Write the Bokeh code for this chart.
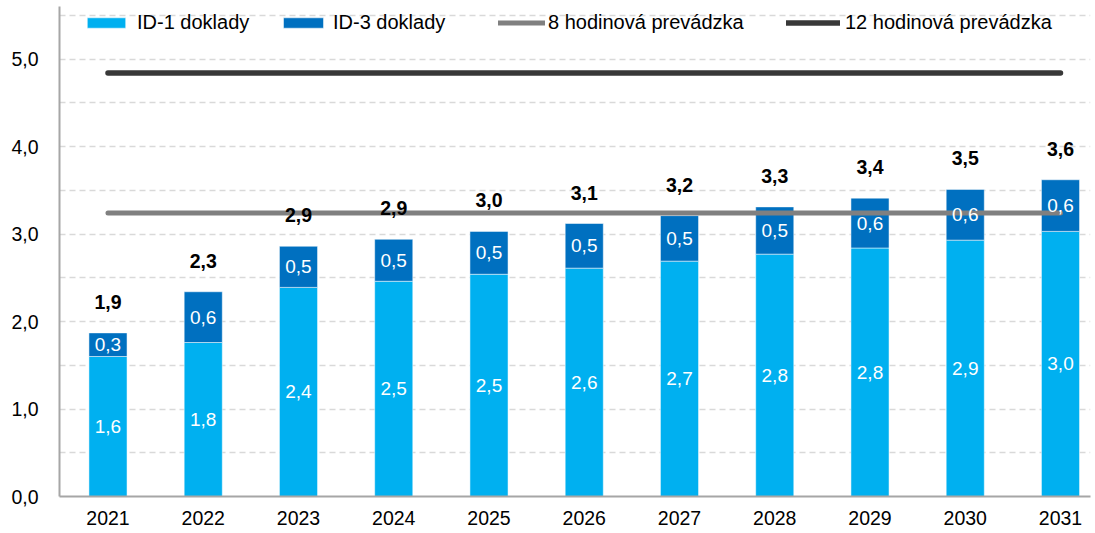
from bokeh.plotting import figure
from bokeh.models import ColumnDataSource, FixedTicker, Legend, LegendItem, Range1d, LabelSet
from bokeh.core.properties import value
from bokeh.embed import file_html
from bokeh.resources import INLINE

years = ["2021", "2022", "2023", "2024", "2025", "2026", "2027", "2028", "2029", "2030", "2031"]
id1 = [1.60, 1.76, 2.39, 2.46, 2.54, 2.61, 2.69, 2.77, 2.84, 2.93, 3.03]
id3 = [0.27, 0.58, 0.47, 0.48, 0.49, 0.51, 0.52, 0.54, 0.57, 0.58, 0.59]
eight_hour = 3.24
twelve_hour = 4.84
y_ticks = [0, 1, 2, 3, 4, 5]
series_names = ["ID-1 doklady", "ID-3 doklady", "8 hodinová prevádzka", "12 hodinová prevádzka"]

FONT = "Liberation Sans"
FS = "19px"
C1 = "#00B0F0"
C3 = "#0070C0"

def fmt(v):
    return f"{v:.1f}".replace(".", ",")

x = list(range(len(years)))
total = [a + b for a, b in zip(id1, id3)]
src = ColumnDataSource(dict(
    x=x, id1=id1, id3=id3, total=total,
    mid1=[a / 2 for a in id1],
    mid3=[a + b / 2 for a, b in zip(id1, id3)],
    l1=[fmt(v) for v in id1], l3=[fmt(v) for v in id3], lt=[fmt(v) for v in total],
))

p = figure(width=1095, height=533, output_backend="svg", toolbar_location=None,
           x_range=Range1d(-0.509, 10.315), y_range=Range1d(0, 5.6),
           min_border_left=59, min_border_right=5, min_border_top=6, min_border_bottom=37)
p.outline_line_color = None

r = p.vbar_stack(["id1", "id3"], x="x", width=0.4, source=src, color=[C1, C3],
                 line_color="white", line_width=0.5)

l8 = p.line(x=x, y=[eight_hour] * len(x), line_color="#808080", line_width=5, line_cap="round")
l12 = p.line(x=x, y=[twelve_hour] * len(x), line_color="#383838", line_width=5.5, line_cap="round")

common = dict(source=src, x="x", text_align="center", text_baseline="middle",
              text_font=value(FONT))
p.add_layout(LabelSet(y="mid1", text="l1", text_color="white", text_font_size=FS, **common))
p.add_layout(LabelSet(y="mid3", text="l3", text_color="white", text_font_size=FS, **common))
p.add_layout(LabelSet(y="total", text="lt", y_offset=31, text_color="black",
                      text_font_style="bold", text_font_size="19.5px", **common))

# axes
p.xaxis.ticker = FixedTicker(ticks=x)
p.xaxis.major_label_overrides = {i: y for i, y in enumerate(years)}
p.yaxis.ticker = FixedTicker(ticks=y_ticks)
p.yaxis.major_label_overrides = {t: fmt(t) for t in y_ticks}
for ax in (p.xaxis, p.yaxis):
    ax.axis_line_color = "#A6A6A6"
    ax.axis_line_width = 2
    ax.major_tick_line_color = None
    ax.minor_tick_line_color = None
    ax.major_tick_out = 0
    ax.major_tick_in = 0
    ax.major_label_text_font = FONT
    ax.major_label_text_font_size = "19.5px"
    ax.major_label_text_color = "black"
p.xaxis.major_label_standoff = 14
p.yaxis.major_label_standoff = 21

p.xgrid.grid_line_color = None
p.ygrid.ticker = FixedTicker(ticks=[0.5 * i for i in range(1, 12)])
p.ygrid.grid_line_color = "#D9D9D9"
p.ygrid.grid_line_dash = "6 4"
p.ygrid.grid_line_width = 1.5

renderers = [r[0], r[1], l8, l12]
legend_x = [23, 219, 439, 727]
glyph_w = [48, 50, 47, 54]
standoff = [7, 5, 3, 5]
for name, rend, lx, gw, so in zip(series_names, renderers, legend_x, glyph_w, standoff):
    lg = Legend(items=[LegendItem(label=name, renderers=[rend])],
                location=(lx, 461), background_fill_alpha=0, border_line_alpha=0,
                padding=0, margin=0, spacing=0, glyph_width=gw, glyph_height=13, label_standoff=so,
                label_height=25, label_width=60,
                label_text_font=FONT, label_text_font_size="20px", label_text_color="black")
    p.add_layout(lg)

open("out.html", "w").write(file_html(p, INLINE))
